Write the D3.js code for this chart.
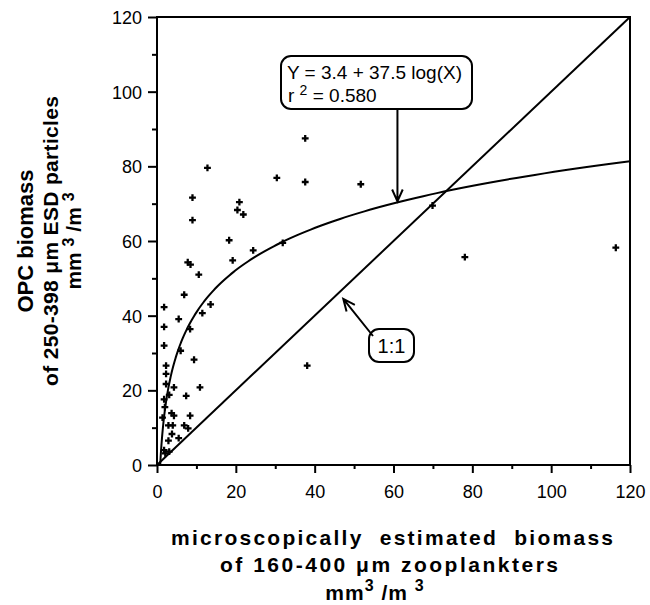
<!DOCTYPE html>
<html lang="en">
<head>
  <meta charset="UTF-8">
  <script src="https://cdn.jsdelivr.net/npm/d3@7"></script>
  <title>OPC vs microscope biomass</title>
  <style>
    body { margin: 0; background: white; }
    text { font-family: "Liberation Sans", Arial, Helvetica, sans-serif; fill: black; }
    .lbl { font-weight: bold; font-size: 21px; }
    .tick text { font-size: 18px; }
  </style>
</head>
<body>
<script>
  // microscope biomass (x) vs OPC biomass (y)
  const xVals = [12.8, 9.0, 20.9, 20.4, 21.9, 9.0, 18.3, 24.4, 19.2, 7.8, 8.5, 10.6, 6.9, 13.6, 1.8,
    11.5, 5.5, 1.8, 8.4, 1.8, 6.0, 9.4, 2.3, 2.3, 2.3, 4.3, 10.9, 3.1, 1.8, 7.4, 2.0, 3.7, 4.3, 1.4,
    8.4, 2.9, 4.0, 6.9, 7.9, 3.8, 5.5, 2.9, 1.8, 3.1, 2.1,
    30.4, 37.6, 37.6, 51.7, 31.9, 69.9, 78.1, 38.1, 116.4];
  const yVals = [79.6, 71.6, 70.4, 68.3, 67.1, 65.6, 60.2, 57.5, 54.8, 54.3, 53.7, 51.0, 45.6, 43.0, 42.3,
    40.7, 39.1, 37.0, 36.4, 32.0, 30.6, 28.2, 26.6, 24.4, 21.7, 20.8, 20.8, 18.8, 17.6, 18.5, 15.5, 13.9, 13.2, 12.7,
    13.2, 10.6, 10.6, 10.6, 9.8, 8.3, 7.2, 6.5, 4.0, 3.6, 3.1,
    76.9, 87.5, 75.8, 75.2, 59.5, 69.5, 55.7, 26.6, 58.2];
  const majorTicks = [0, 20, 40, 60, 80, 100, 120];
  const minorTicks = [10, 30, 50, 70, 90, 110];
  // fit: Y = a + b log10(X)
  const fitA = 3.4, fitB = 37.5;

  const W = 650, H = 605;
  const mL = 157, mR = 630, mT = 17, mB = 465;

  const svg = d3.select('body').append('svg')
    .attr('width', W).attr('height', H);

  const x = d3.scaleLinear().domain([0, 120]).range([mL, mR]);
  const y = d3.scaleLinear().domain([0, 120]).range([mB, mT]);

  // frame
  svg.append('rect')
    .attr('x', mL).attr('y', mT)
    .attr('width', mR - mL).attr('height', mB - mT)
    .attr('fill', 'none').attr('stroke', 'black').attr('stroke-width', 2);

  // axes
  const xAxis = svg.append('g').attr('transform', `translate(0,${mB})`)
    .call(d3.axisBottom(x).tickValues(majorTicks).tickSize(8).tickPadding(9));
  const yAxis = svg.append('g').attr('transform', `translate(${mL},0)`)
    .call(d3.axisLeft(y).tickValues(majorTicks).tickSize(9).tickPadding(6));
  svg.append('g').attr('transform', `translate(0,${mB})`)
    .call(d3.axisBottom(x).tickValues(minorTicks).tickSize(4).tickFormat(''));
  svg.append('g').attr('transform', `translate(${mL},0)`)
    .call(d3.axisLeft(y).tickValues(minorTicks).tickSize(5).tickFormat(''));
  svg.selectAll('.domain').remove();
  svg.selectAll('.tick line').attr('stroke-width', 2);
  xAxis.selectAll('text').attr('dy', '0.9em');
  yAxis.selectAll('text').attr('dy', '0.36em');

  const line = d3.line().x(d => x(d[0])).y(d => y(d[1]));

  // 1:1 line
  svg.append('path')
    .attr('d', line([[0, 0], [120, 120]]))
    .attr('fill', 'none').attr('stroke', 'black').attr('stroke-width', 2);

  // regression curve
  const x0 = Math.pow(10, -fitA / fitB);
  const curvePts = d3.range(0, 201).map(i => {
    const xv = x0 * Math.pow(120 / x0, i / 200);
    return [xv, fitA + fitB * Math.log10(xv)];
  });
  svg.append('path')
    .attr('d', line(curvePts))
    .attr('fill', 'none').attr('stroke', 'black').attr('stroke-width', 2);

  // points
  svg.append('g').selectAll('path')
    .data(xVals.map((v, i) => [v, yVals[i]]))
    .enter().append('path')
    .attr('d', d3.symbol().type(d3.symbolCross).size(26))
    .attr('transform', d => `translate(${x(d[0])},${y(d[1])})`)
    .attr('fill', 'black');

  // arrow helper: open V head
  function arrow(x1, y1, x2, y2) {
    const ang = Math.atan2(y2 - y1, x2 - x1);
    const len = 13, spread = 0.42;
    svg.append('path')
      .attr('d', `M${x1},${y1}L${x2},${y2}` +
        `M${x2 - len * Math.cos(ang - spread)},${y2 - len * Math.sin(ang - spread)}L${x2},${y2}` +
        `L${x2 - len * Math.cos(ang + spread)},${y2 - len * Math.sin(ang + spread)}`)
      .attr('fill', 'none').attr('stroke', 'black').attr('stroke-width', 2);
  }

  // equation box
  svg.append('rect')
    .attr('x', 281).attr('y', 56).attr('width', 191).attr('height', 53).attr('rx', 10)
    .attr('fill', 'white').attr('stroke', 'black').attr('stroke-width', 2);
  svg.append('text').attr('x', 287).attr('y', 79).style('font-size', '19px')
    .text('Y = 3.4 + 37.5 log(X)');
  const r2 = svg.append('text').attr('x', 288).attr('y', 102).style('font-size', '19px');
  r2.append('tspan').text('r ');
  r2.append('tspan').attr('dy', -7).style('font-size', '14px').text('2');
  r2.append('tspan').attr('dy', 7).text('  = 0.580');
  arrow(x(61), 109, x(61), y(fitA + fitB * Math.log10(61)) - 1);

  // 1:1 box
  svg.append('rect')
    .attr('x', 369).attr('y', 329).attr('width', 45).attr('height', 33).attr('rx', 10)
    .attr('fill', 'white').attr('stroke', 'black').attr('stroke-width', 2);
  svg.append('text').attr('x', 391.5).attr('y', 353).attr('text-anchor', 'middle')
    .style('font-size', '20px').text('1:1');
  arrow(373, 336, x(46.5) + 3, y(44.5));

  // y label
  const ymid = (mT + mB) / 2;
  const yl = svg.append('text').attr('class', 'lbl')
    .attr('transform', `translate(0,${ymid}) rotate(-90)`)
    .attr('text-anchor', 'middle');
  yl.append('tspan').attr('x', 0).attr('y', 33).style('font-size', '22px').text('OPC biomass');
  yl.append('tspan').attr('x', 0).attr('y', 58)
    .attr('textLength', 290).attr('lengthAdjust', 'spacing').text('of 250-398 \u03bcm ESD particles');
  const yl3 = svg.append('text').attr('class', 'lbl')
    .attr('transform', `translate(0,${ymid}) rotate(-90)`)
    .attr('text-anchor', 'middle').attr('x', 0).attr('y', 81);
  yl3.append('tspan').text('mm ');
  yl3.append('tspan').attr('dy', -7).style('font-size', '16px').text('3');
  yl3.append('tspan').attr('dy', 7).text(' /m ');
  yl3.append('tspan').attr('dy', -7).style('font-size', '16px').text('3');

  // x label
  const cx = (mL + mR) / 2 - 1.5;
  svg.append('text').attr('class', 'lbl').attr('x', cx).attr('y', 545)
    .attr('text-anchor', 'middle')
    .attr('textLength', 442).attr('lengthAdjust', 'spacing')
    .text('microscopically  estimated  biomass').style('white-space', 'pre');
  svg.append('text').attr('class', 'lbl').attr('x', cx - 3).attr('y', 572)
    .attr('text-anchor', 'middle')
    .attr('textLength', 338).attr('lengthAdjust', 'spacing')
    .text('of 160-400 \u03bcm zooplankters');
  const xl3 = svg.append('text').attr('class', 'lbl').attr('x', cx - 17).attr('y', 600)
    .attr('text-anchor', 'middle').style('letter-spacing', '1px');
  xl3.append('tspan').text('mm');
  xl3.append('tspan').attr('dy', -9).style('font-size', '16px').text('3');
  xl3.append('tspan').attr('dy', 9).text(' /m ');
  xl3.append('tspan').attr('dy', -9).style('font-size', '16px').text('3');
</script>
</body>
</html>
